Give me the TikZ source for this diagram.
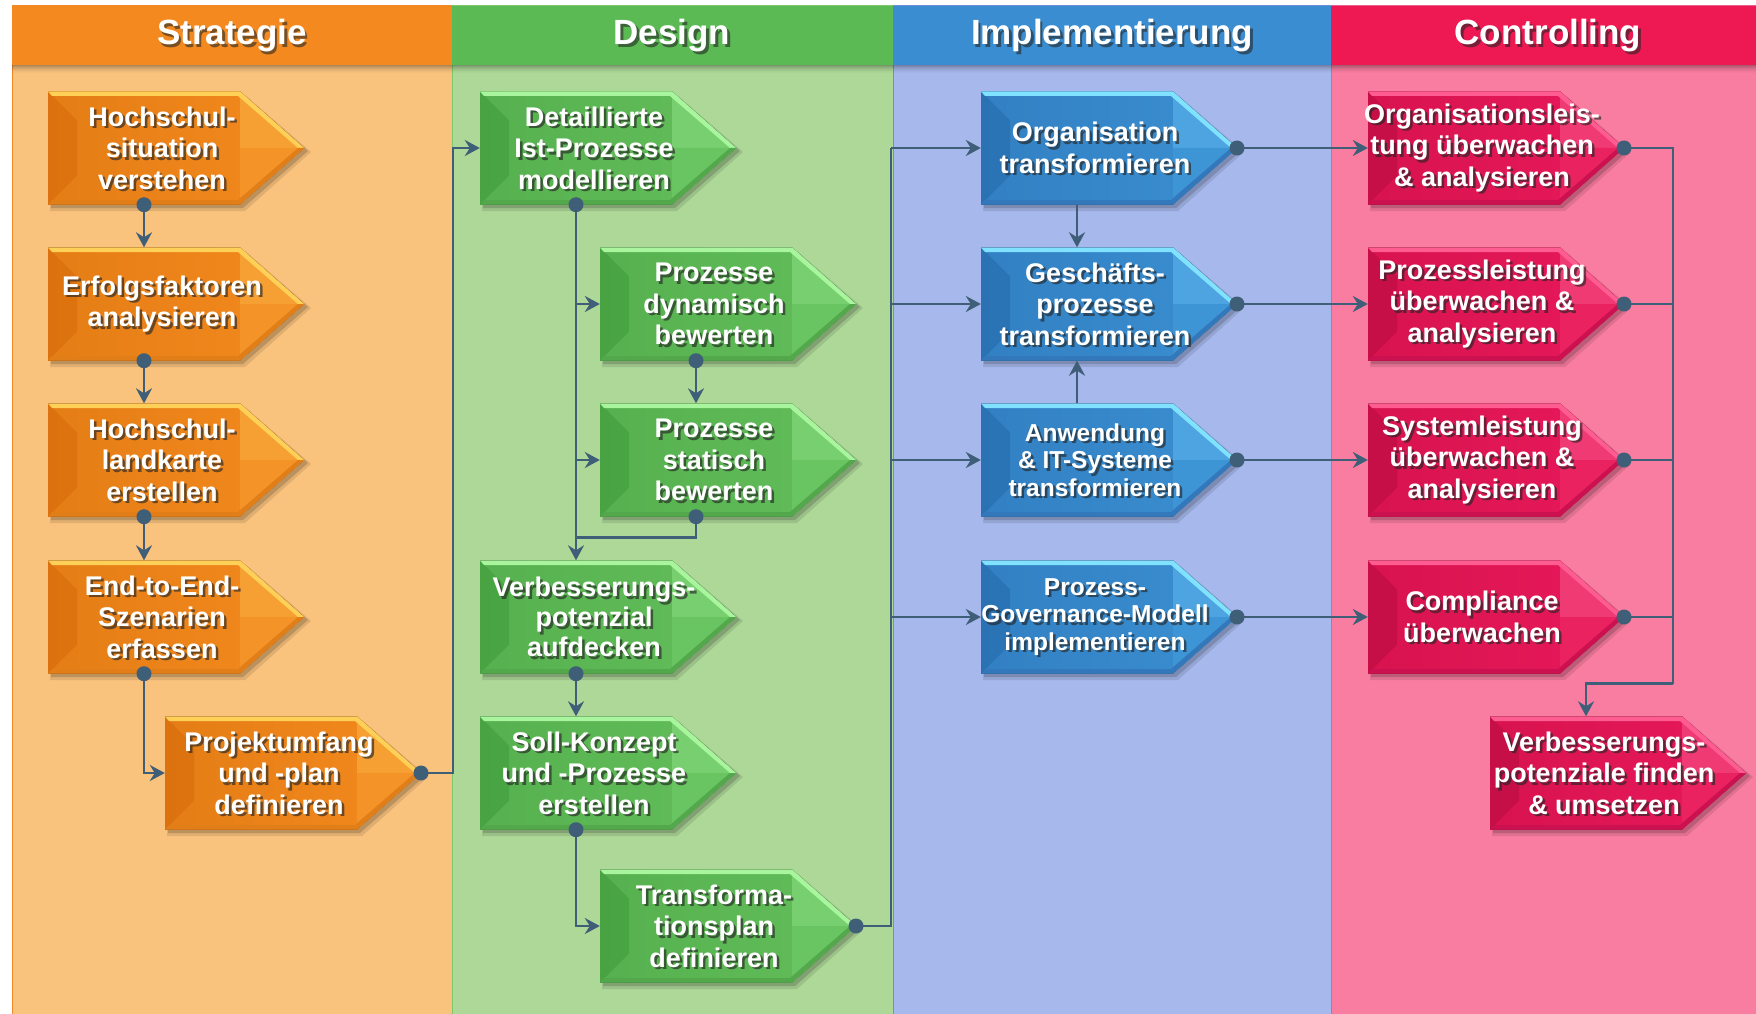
\documentclass[tikz,border=0pt]{standalone}
\usepackage{fontspec}
\setmainfont{Liberation Sans}
\usetikzlibrary{arrows.meta,calc}
% lanes / headers
\definecolor{obg}{HTML}{F9C27D}\definecolor{gbg}{HTML}{ADD898}
\definecolor{bbg}{HTML}{A7B8EC}\definecolor{rbg}{HTML}{F97DA0}
\definecolor{ohd}{HTML}{F48A1F}\definecolor{ghd}{HTML}{5CBA55}
\definecolor{bhd}{HTML}{3A8DD0}\definecolor{rhd}{HTML}{EE1853}
\definecolor{obd}{HTML}{EE8A2A}\definecolor{gbd}{HTML}{7CC86A}
\definecolor{bbd}{HTML}{6E8FD8}\definecolor{rbd}{HTML}{E86090}
% box colours: F face, L face left, U tip upper, T tip lower, D left facet, H top strip, B bottom strip
\definecolor{oF}{HTML}{F28A1E}\definecolor{oL}{HTML}{E57D16}\definecolor{oU}{HTML}{F6A033}
\definecolor{oT}{HTML}{F39328}\definecolor{oD}{HTML}{D46A0A}\definecolor{oH}{HTML}{FFD057}\definecolor{oB}{HTML}{E27E18}
\definecolor{gF}{HTML}{62BE5A}\definecolor{gL}{HTML}{56B04F}\definecolor{gU}{HTML}{78CF6F}
\definecolor{gT}{HTML}{69C462}\definecolor{gD}{HTML}{3F9A3A}\definecolor{gH}{HTML}{A8F59D}\definecolor{gB}{HTML}{52A84B}
\definecolor{bF}{HTML}{3A8FD0}\definecolor{bL}{HTML}{3280C3}\definecolor{bU}{HTML}{4EA4E0}
\definecolor{bT}{HTML}{3D95D6}\definecolor{bD}{HTML}{2468A8}\definecolor{bH}{HTML}{80E2FF}\definecolor{bB}{HTML}{3278BA}
\definecolor{rF}{HTML}{E8195B}\definecolor{rL}{HTML}{D8134F}\definecolor{rU}{HTML}{F03A73}
\definecolor{rT}{HTML}{EA2260}\definecolor{rD}{HTML}{B80C40}\definecolor{rH}{HTML}{FF5C92}\definecolor{rB}{HTML}{CC1150}
\definecolor{lc}{HTML}{3F5E77}

\tikzset{
  tnorm/.style={font=\fontsize{27}{31.5}\selectfont\bfseries},
  tsmall/.style={font=\fontsize{24.5}{27.5}\selectfont\bfseries},
  ttight/.style={font=\fontsize{27}{30}\selectfont\bfseries},
  btext/.style={text=white, align=center, inner sep=0pt},
  bshadow/.style={text=black!85, opacity=.65, align=center, inner sep=0pt},
  anchorbox/.style={rectangle, minimum width=192pt, minimum height=113pt, inner sep=0pt, draw=none},
  htext/.style={font=\fontsize{35}{38}\selectfont\bfseries, text=white, inner sep=0pt},
  hshadow/.style={font=\fontsize{35}{38}\selectfont\bfseries, text=black!85, opacity=.6, inner sep=0pt},
  line/.style={draw=lc, line width=2.8pt},
  conn/.style={line, -{Stealth[length=15pt,width=16pt,inset=5pt]}},
  dot/.style={fill=lc},
}

% \pbox{name}{left x}{centre y}{colour prefix}{font style}{text}
\newcommand\pbox[6]{%
\begin{scope}[shift={(#2,#3)}]
 \fill[black,opacity=.10] (2,-53)--(197,-53)--(263,4)--(197,63)--(2,63)--cycle;
 \fill[black,opacity=.16] (3,-54)--(195,-54)--(260,3)--(195,60)--(3,60)--cycle;
 \fill[left color=#4L, right color=#4F] (0,-56.5)--(192,-56.5)--(256,0)--(192,56.5)--(0,56.5)--cycle;
 \fill[#4U] (192,-56.5)--(256,0)--(192,0)--cycle;
 \fill[#4T] (192,0)--(256,0)--(192,56.5)--cycle;
 \fill[#4D,opacity=.55] (0,-56.5)--(29,-27.5)--(29,27.5)--(0,56.5)--cycle;
 \fill[#4H] (0,-56.5)--(192,-56.5)--(256,0)--(250,0)--(190,-52)--(4,-52)--cycle;
 \fill[#4B] (0,56.5)--(192,56.5)--(256,0)--(250,0)--(190,52)--(4,52)--cycle;
 \node[anchorbox] (#1) at (96,0) {};
 \coordinate (#1-tip) at (256,0);
 \node[bshadow,#5] (#1-s) at (116.5,2.5) {#6};
 \node[btext,#5] (#1-t) at (114,0) {#6};
\end{scope}}

\begin{document}
\begin{tikzpicture}[x=1pt,y=-1pt]
\useasboundingbox (0,0) rectangle (1756,1014);
% lanes
\fill[white] (0,0) rectangle (1756,1014);
\fill[obg,draw=obd,line width=1pt] (12,6) rectangle (452,1016);
\fill[gbg,draw=gbd,line width=1pt] (452,6) rectangle (893,1016);
\fill[bbg,draw=bbd,line width=1pt] (893,6) rectangle (1331,1016);
\fill[rbg,draw=rbd,line width=1pt] (1331,6) rectangle (1758,1016);
% headers
\fill[ohd] (12,6) rectangle (452,65);
\fill[ghd] (452,6) rectangle (893,65);
\fill[bhd] (893,6) rectangle (1331,65);
\fill[rhd] (1331,6) rectangle (1756,65);
\foreach \i/\o in {1/.30,2/.24,3/.19,4/.14,5/.10,6/.07,7/.04,8/.02}
  \fill[black,opacity=\o] (12,64+\i) rectangle (1756,65+\i);
\node[hshadow] (h1s) at (234.5,38.5) {Strategie};
\node[htext] (h1) at (232,36) {Strategie};
\node[hshadow] (h2s) at (674.5,38.5) {Design};
\node[htext] (h2) at (672,36) {Design};
\node[hshadow] (h3s) at (1114.5,38.5) {Implementierung};
\node[htext] (h3) at (1112,36) {Implementierung};
\node[hshadow] (h4s) at (1550.5,38.5) {Controlling};
\node[htext] (h4) at (1548,36) {Controlling};

% Strategie
\pbox{s1}{48}{148}{o}{tnorm}{Hochschul-\\situation\\verstehen}
\pbox{s2}{48}{304}{o}{tnorm}{Erfolgsfaktoren\\analysieren}
\pbox{s3}{48}{460}{o}{tnorm}{Hochschul-\\landkarte\\erstellen}
\pbox{s4}{48}{617}{o}{tnorm}{End-to-End-\\Szenarien\\erfassen}
\pbox{s5}{165}{773}{o}{tnorm}{Projektumfang\\und -plan\\definieren}
% Design
\pbox{d1}{480}{148}{g}{tnorm}{Detaillierte\\Ist-Prozesse\\modellieren}
\pbox{d2}{600}{304}{g}{tnorm}{Prozesse\\dynamisch\\bewerten}
\pbox{d3}{600}{460}{g}{tnorm}{Prozesse\\statisch\\bewerten}
\pbox{d4}{480}{617}{g}{ttight}{Verbesserungs-\\potenzial\\aufdecken}
\pbox{d5}{480}{773}{g}{tnorm}{Soll-Konzept\\und -Prozesse\\erstellen}
\pbox{d6}{600}{926}{g}{tnorm}{Transforma-\\tionsplan\\definieren}
% Implementierung
\pbox{i1}{981}{148}{b}{tnorm}{Organisation\\transformieren}
\pbox{i2}{981}{304}{b}{tnorm}{Geschäfts-\\prozesse\\transformieren}
\pbox{i3}{981}{460}{b}{tsmall}{Anwendung\\\& IT-Systeme\\transformieren}
\pbox{i4}{981}{617}{b}{tsmall}{Prozess-\\Governance-Modell\\implementieren}
% Controlling
\pbox{c1}{1368}{148}{r}{tnorm}{Organisationsleis-\\tung überwachen\\\& analysieren}
\pbox{c2}{1368}{304}{r}{tnorm}{Prozessleistung\\überwachen \&\\analysieren}
\pbox{c3}{1368}{460}{r}{tnorm}{Systemleistung\\überwachen \&\\analysieren}
\pbox{c4}{1368}{617}{r}{tnorm}{Compliance\\überwachen}
\pbox{c5}{1490}{773}{r}{tnorm}{Verbesserungs-\\potenziale finden\\\& umsetzen}

% connectors: Strategie
\foreach \a/\b in {s1/s2,s2/s3,s3/s4}{
  \draw[conn] (\a.south) -- (\b.north);
  \fill[dot] (\a.south) circle (7.5pt);}
\draw[conn] (s4.south) |- (s5.west);
\fill[dot] (s4.south) circle (7.5pt);
\draw[conn] (s5-tip) -- ++(32,0) |- (d1.west);
\fill[dot] (s5-tip) circle (7.5pt);
% Design
\draw[conn] (d1.south) -- (d4.north);
\draw[conn] (d1.south |- d2.west) -- (d2.west);
\draw[conn] (d1.south |- d3.west) -- (d3.west);
\fill[dot] (d1.south) circle (7.5pt);
\draw[conn] (d2.south) -- (d3.north);
\fill[dot] (d2.south) circle (7.5pt);
\coordinate (dj) at ($(d3.south)+(0,21)$);
\draw[line] (d3.south) -- (dj) -- (dj -| d1.south);
\fill[dot] (d3.south) circle (7.5pt);
\draw[conn] (d4.south) -- (d5.north);
\fill[dot] (d4.south) circle (7.5pt);
\draw[conn] (d5.south) |- (d6.west);
\fill[dot] (d5.south) circle (7.5pt);
\coordinate (bus) at ($(d6-tip)+(35,0)$);
\draw[line] (d6-tip) -- (bus) -- (bus |- i1.west);
\foreach \n in {i1,i2,i3,i4}
  \draw[conn] (bus |- \n.west) -- (\n.west);
\fill[dot] (d6-tip) circle (7.5pt);
% Implementierung
\draw[conn] (i1.south) -- (i2.north);
\draw[conn] (i3.north) -- (i2.south);
\foreach \k in {1,2,3,4}{
  \draw[conn] (i\k-tip) -- (c\k.west);
  \fill[dot] (i\k-tip) circle (7.5pt);}
% Controlling
\coordinate (cb) at ($(c1-tip)+(49,0)$);
\coordinate (cj) at ($(cb |- c4.south)+(0,10)$);
\draw[line] (c1-tip) -- (cb) -- (cj);
\draw[conn] (cj) -| (c5.north);
\foreach \k in {2,3,4}
  \draw[line] (c\k-tip) -- (cb |- c\k-tip);
\foreach \k in {1,2,3,4}
  \fill[dot] (c\k-tip) circle (7.5pt);
\end{tikzpicture}
\end{document}
